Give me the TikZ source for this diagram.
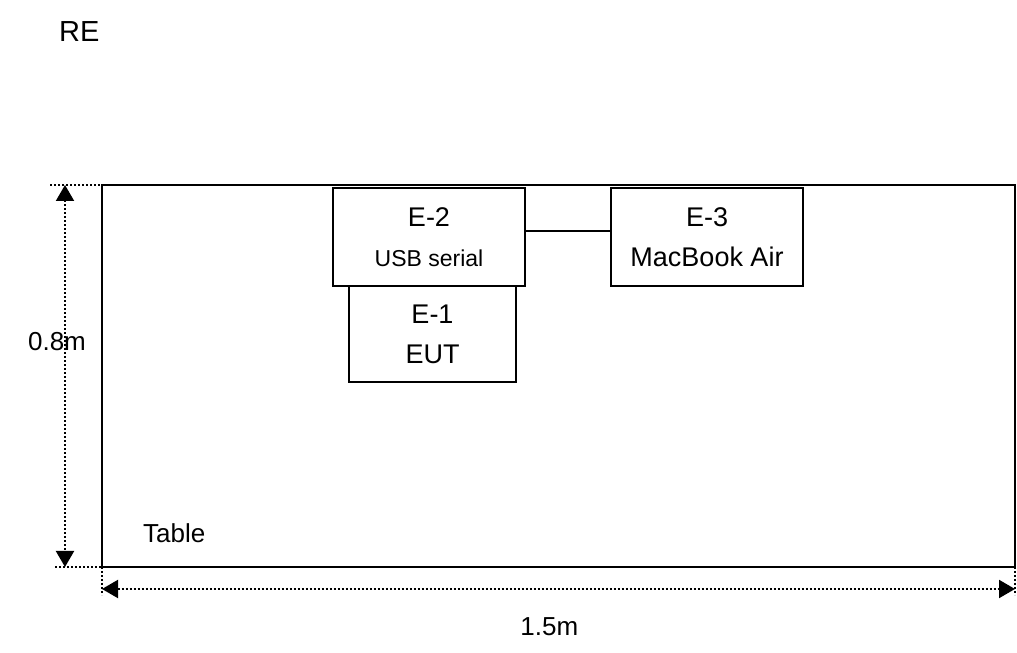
\documentclass[tikz,border=0pt]{standalone}
\usepackage{fontspec}
\setmainfont{Liberation Sans}
\usetikzlibrary{arrows.meta, positioning, calc}

\begin{document}
\begin{tikzpicture}[
    x=1pt, y=1pt,
    tablebox/.style={rectangle, draw, line width=2pt, minimum width=913pt,
                     minimum height=382pt, inner sep=0pt, outer sep=0pt},
    unit/.style={rectangle, draw, line width=1.5pt, minimum width=192pt,
                 minimum height=98pt, inner sep=0pt, outer sep=0pt, align=center,
                 font=\fontsize{27}{40}\selectfont},
    link/.style={line width=1.5pt},
    guide/.style={line width=2pt, dash pattern=on 2pt off 2pt},
    dim/.style={{Triangle[length=16pt,width=18pt]}-{Triangle[length=16pt,width=18pt]},
                line width=2pt, dash pattern=on 2pt off 2pt},
    label/.style={font=\fontsize{26}{30}\selectfont}
]
\useasboundingbox (0,0) rectangle (1017,653);

% Title
\node[anchor=base west, inner sep=0pt, font=\fontsize{29}{30}\selectfont] (title) at (59,611) {RE};

% Table
\node[tablebox] (table) at (558.5,277) {};
\node[label, anchor=base west, inner sep=0pt] (tablename) at (143,110) {Table};

% Equipment
\node[unit] (e2) at (429,416) {
    E-2\\
    {\fontsize{23}{40}\selectfont USB serial}
};
\node[unit, minimum width=167pt, minimum height=96pt, below=0pt of e2, xshift=3.5pt] (e1) {
    E-1\\
    EUT
};
\node[unit, right=86pt of e2] (e3) {
    E-3\\
    MacBook Air
};

% Cable
\draw[link] ([yshift=6pt]e2.east) -- ([yshift=6pt]e3.west);

% Dimensions
\coordinate (vtop) at ($(table.north west)+(-37,0)$);
\coordinate (vbot) at ($(table.south west)+(-37,0)$);
\coordinate (hleft) at ($(table.south west)+(0,-22)$);
\coordinate (hright) at ($(table.south east)+(0,-22)$);

\draw[guide] ($(table.north west)+(-52,0)$) -- ($(table.north west)+(18,0)$);
\draw[guide] ($(table.south west)+(-47,0)$) -- ($(table.south west)+(23,0)$);
\draw[guide] (table.south west) -- ++(0,-28);
\draw[guide] (table.south east) -- ++(0,-28);

\draw[dim] (vtop) -- node[label, pos=0.41, xshift=-8pt] {0.8m} (vbot);
\draw[dim] (hleft) -- node[label, pos=0.49, yshift=-38pt] {1.5m} (hright);

\end{tikzpicture}
\end{document}
